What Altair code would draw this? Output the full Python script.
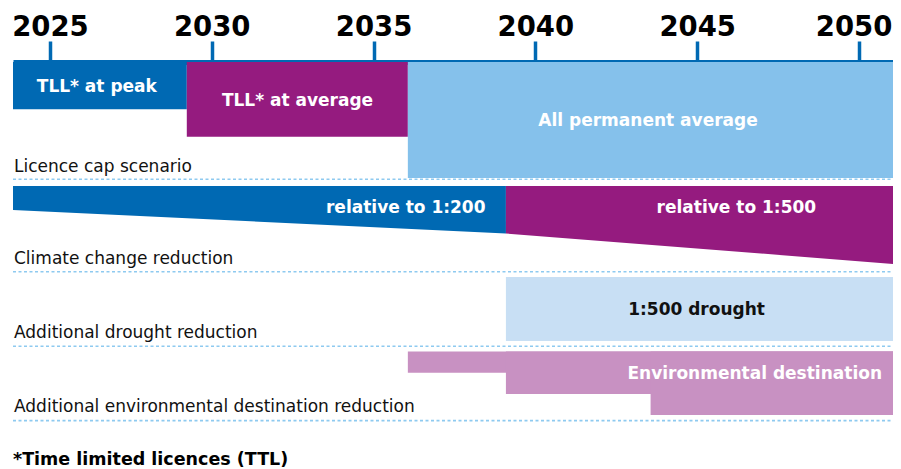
import altair as alt
import pandas as pd

# ---------------- data ----------------
X_MIN, X_MAX = 2023.86, 2051.05
tick_years = [2025, 2030, 2035, 2040, 2045, 2050]

# Licence cap scenario blocks (years) and vertical extent (row units)
cap_labels = ["TLL* at peak", "TLL* at average", "All permanent average"]
cap_start = [2023.86, 2029.23, 2036.06]
cap_end = [2029.23, 2036.06, 2051.2]
cap_top = [0, 0, 0]
cap_bottom = [47.3, 74.7, 116]
cap_colors = ["#0069B3", "#951B7F", "#85C1EB"]
cap_text_x = [2026.45, 2032.65, 2043.48]
cap_text_y = [30.3, 44, 64]

# Climate change reduction wedge
clim_top = 124
clim200_years = [2023.86, 2039.09]
clim200_bottom = [148, 171.5]
clim500_years = [2039.09, 2051.2]
clim500_bottom = [171.5, 202.3]
clim_labels = ["relative to 1:200", "relative to 1:500"]
clim_text_x = [2038.46, 2046.21]
clim_text_y = [151, 151]

# Additional drought reduction
drought_start, drought_end = 2039.09, 2051.2
drought_top, drought_bottom = 215, 279
drought_label = "1:500 drought"
drought_text_x, drought_text_y = 2044.98, 253

# Additional environmental destination reduction (stepped)
env_start = [2036.06, 2039.09, 2043.56]
env_end = [2051.2, 2051.2, 2051.2]
env_top = [289.5, 289.5, 289.5]
env_bottom = [310.7, 332, 353]
env_label = "Environmental destination"
env_text_x, env_text_y = 2050.71, 317

# Row labels and separators
row_labels = ["Licence cap scenario", "Climate change reduction",
              "Additional drought reduction",
              "Additional environmental destination reduction"]
row_label_y = [110.3, 202.3, 276.3, 349.7]
sep_y = [117.3, 209.7, 284.3, 358.6]
footnote = "*Time limited licences (TTL)"
footnote_y = 402.5

BLUE = "#0069B3"
PURPLE = "#951B7F"

# ---------------- scales / axes ----------------
xscale = alt.Scale(domain=[X_MIN, X_MAX], nice=False, zero=False)
yscale = alt.Scale(domain=[0, 407], reverse=True, nice=False, zero=False)
xaxis = alt.Axis(orient="top", values=tick_years, format="d", title=None,
                 grid=False, domainColor=BLUE, domainWidth=5,
                 tickColor=BLUE, tickWidth=3.5, tickSize=21,
                 labelFont="DejaVu Sans", labelFontSize=27.5,
                 labelFontWeight="bold",
                 labelColor="#000000", labelPadding=6,
                 labelBaseline="alphabetic", labelFlush=False,
                 labelOverlap=False,
                 labelOffset={"condition": {"test": "datum.value == 2050",
                                            "value": -5.5},
                              "value": 0})


def X(f):
    return alt.X(f"{f}:Q", scale=xscale, axis=xaxis)


def Y(f):
    return alt.Y(f"{f}:Q", scale=yscale, axis=None)


# ---------------- layers ----------------
cap_df = pd.DataFrame({"label": cap_labels, "start": cap_start, "end": cap_end,
                       "top": cap_top, "bottom": cap_bottom, "col": cap_colors,
                       "tx": cap_text_x, "ty": cap_text_y})
cap_rect = alt.Chart(cap_df).mark_rect().encode(
    x=X("start"), x2="end", y=Y("top"), y2="bottom",
    color=alt.Color("col:N", scale=None))

c200 = pd.DataFrame({"year": clim200_years, "top": [clim_top] * 2,
                     "bottom": clim200_bottom})
c500 = pd.DataFrame({"year": clim500_years, "top": [clim_top] * 2,
                     "bottom": clim500_bottom})
area200 = alt.Chart(c200).mark_area(color=BLUE, opacity=1).encode(
    x=X("year"), y=Y("top"), y2="bottom")
area500 = alt.Chart(c500).mark_area(color=PURPLE, opacity=1).encode(
    x=X("year"), y=Y("top"), y2="bottom")

dr_df = pd.DataFrame({"start": [drought_start], "end": [drought_end],
                      "top": [drought_top], "bottom": [drought_bottom]})
dr_rect = alt.Chart(dr_df).mark_rect(color="#C8DFF4").encode(
    x=X("start"), x2="end", y=Y("top"), y2="bottom")

env_df = pd.DataFrame({"start": env_start, "end": env_end,
                       "top": env_top, "bottom": env_bottom})
env_rect = alt.Chart(env_df).mark_rect(color="#C891C2").encode(
    x=X("start"), x2="end", y=Y("top"), y2="bottom")

sep_df = pd.DataFrame({"y": sep_y, "x1": [X_MIN] * 4, "x2": [2051.2] * 4})
seps = alt.Chart(sep_df).mark_rule(color="#8ECAF0", strokeWidth=1.6,
                                   strokeDash=[3, 2.5]).encode(
    x=X("x1"), x2="x2", y=Y("y"))

bar_font = dict(font="DejaVu Sans", fontSize=17, fontWeight="bold",
                baseline="alphabetic")

cap_text = alt.Chart(cap_df).mark_text(align="center", color="white",
                                       **bar_font).encode(
    x=X("tx"), y=Y("ty"), text="label:N")

clim_df = pd.DataFrame({"label": clim_labels, "tx": clim_text_x,
                        "ty": clim_text_y})
clim_text_r = alt.Chart(clim_df.iloc[[0]]).mark_text(
    align="right", color="white", **bar_font).encode(
    x=X("tx"), y=Y("ty"), text="label:N")
clim_text_c = alt.Chart(clim_df.iloc[[1]]).mark_text(
    align="center", color="white", **bar_font).encode(
    x=X("tx"), y=Y("ty"), text="label:N")

dr_text = alt.Chart(pd.DataFrame({"label": [drought_label],
                                  "tx": [drought_text_x],
                                  "ty": [drought_text_y]})).mark_text(
    align="center", color="#111111", **bar_font).encode(
    x=X("tx"), y=Y("ty"), text="label:N")

env_text = alt.Chart(pd.DataFrame({"label": [env_label],
                                   "tx": [env_text_x],
                                   "ty": [env_text_y]})).mark_text(
    align="right", color="white", **bar_font).encode(
    x=X("tx"), y=Y("ty"), text="label:N")

row_df = pd.DataFrame({"label": row_labels, "y": row_label_y,
                       "x": [X_MIN] * 4})
row_text = alt.Chart(row_df).mark_text(
    align="left", dx=1, font="DejaVu Sans", fontSize=17, color="#111111",
    baseline="alphabetic").encode(x=X("x"), y=Y("y"), text="label:N")

foot_text = alt.Chart(pd.DataFrame({"label": [footnote], "y": [footnote_y],
                                    "x": [X_MIN]})).mark_text(
    align="left", dx=0, font="DejaVu Sans", fontSize=17.5, fontWeight="bold",
    color="#000000", baseline="alphabetic").encode(
    x=X("x"), y=Y("y"), text="label:N")

chart = alt.layer(
    cap_rect, area200, area500, dr_rect, env_rect, seps,
    cap_text, clim_text_r, clim_text_c, dr_text, env_text,
    row_text, foot_text
).properties(
    width=880, height=407,
    padding={"left": 5, "top": 54, "right": 0, "bottom": 0},
    autosize=alt.AutoSizeParams(type="none"),
    background="white",
).configure_view(strokeWidth=0)

chart.save("out.html", embed_options={"renderer": "svg", "actions": False})
